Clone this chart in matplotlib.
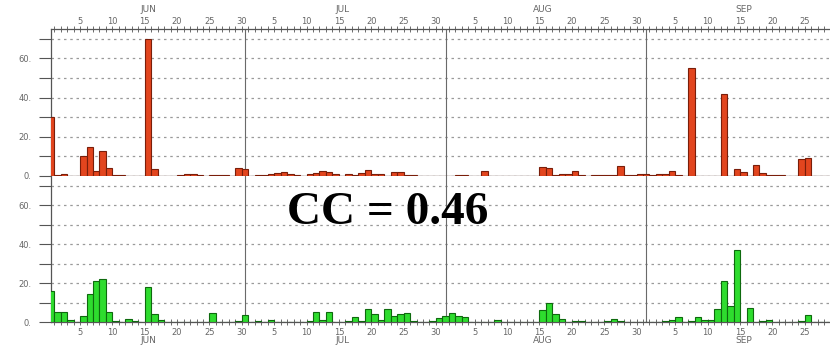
import matplotlib as mpl
import matplotlib.pyplot as plt
import numpy as np

# daily values, one list per month (index = days from 1 June)
red_jun = [30, 0.5, 0.8, 0, 0, 10, 15, 2.5, 13, 4,
           0.3, 0.3, 0, 0, 0, 70, 3.5, 0, 0, 0,
           0.5, 0.8, 0.8, 0.3, 0, 0.4, 0.4, 0.4, 0, 4]
red_jul = [3.5, 0, 0.3, 0.5, 1, 1.5, 2, 1.2, 0.3, 0,
           1, 1.5, 2.5, 2, 1, 0, 0.8, 0.3, 1.5, 3,
           0.8, 0.8, 0, 2, 1.8, 0.3, 0.4, 0, 0, 0, 0]
red_aug = [0, 0, 0.3, 0.7, 0, 0, 2.5, 0, 0, 0,
           0, 0, 0, 0, 0, 4.5, 4, 0.3, 1.2, 1,
           2.5, 0.3, 0, 0.3, 0.5, 0.3, 0.5, 5, 0.5, 0.5, 0.8]
red_sep = [0.8, 0.5, 0.8, 0.8, 2.5, 0.5, 0, 55, 0, 0,
           0, 0, 42, 0, 3.5, 2, 0, 5.5, 1.5, 0.3,
           0.3, 0.3, 0, 0, 8.5, 9, 0, 0, 0]

green_jun = [16, 5, 5, 1, 0, 3, 14.5, 21, 22, 5,
             0.5, 0, 1.5, 0.5, 0, 18, 4, 1, 0, 0,
             0, 0, 0, 0, 0, 4.5, 0, 0, 0, 0.3]
green_jul = [3.5, 0, 0.5, 0, 0.8, 0, 0, 0, 0, 0,
             0.3, 5, 1, 5, 0, 0, 0.3, 2.5, 0.5, 6.5,
             4, 1, 6.5, 3, 4, 4.5, 0.5, 0, 0, 0.3, 2]
green_aug = [3, 4.5, 3, 2.5, 0, 0, 0, 0, 0.8, 0,
             0, 0, 0, 0, 0, 6, 10, 4, 1.5, 0,
             0.5, 0.5, 0, 0, 0, 0.3, 1.5, 0.5, 0, 0, 0]
green_sep = [0, 0, 0, 0.3, 1, 2.5, 0, 0.5, 2.5, 1,
             1, 6.5, 21, 8, 37, 0, 7, 0, 0.3, 0.8,
             0, 0, 0, 0, 0.3, 3.5, 0, 0, 0]

month_names = ['JUN', 'JUL', 'AUG', 'SEP']
month_days = [30, 31, 31, 30]
day_labels = [5, 10, 15, 20, 25, 30]
yticks = [0, 20, 40, 60]

red = np.array(red_jun + red_jul + red_aug + red_sep)
green = np.array(green_jun + green_jul + green_aug + green_sep)
days = np.arange(len(red))
month_start = np.concatenate([[0], np.cumsum(month_days)[:-1]])

xmax = 120.4
grey = '#666666'
axis_col = '#555555'

fig = plt.figure(figsize=(8.3, 3.47), dpi=100)
ax1 = fig.add_axes([0.0614, 0.4928, 1 - 0.0614, 0.4236])
ax2 = fig.add_axes([0.0614, 0.072, 1 - 0.0614, 0.4208])

ax1.bar(days, red, width=1.0, color='#E2451E', edgecolor='#7A1E0A', linewidth=0.8, zorder=3)
ax2.bar(days, green, width=1.0, color='#2EDC2E', edgecolor='#0E6A0E', linewidth=0.8, zorder=3)

# tick positions for day labels and every day
lab_pos, lab_txt = [], []
for m0, nd in zip(month_start, month_days):
    for d in day_labels:
        if d <= nd and m0 + d - 0.5 < xmax:
            lab_pos.append(m0 + d - 0.5)
            lab_txt.append(str(d))
day_ticks = np.arange(0.5, xmax, 1.0)

for ax in (ax1, ax2):
    ax.set_xlim(0, xmax)
    ax.set_ylim(0, 75)
    ax.set_yticks(yticks)
    ax.set_yticklabels([f'{v}.' for v in yticks])
    ax.yaxis.set_minor_locator(mpl.ticker.MultipleLocator(10))
    ax.tick_params(axis='y', which='both', direction='out', length=9,
                   width=0.8, color=axis_col, labelsize=6, labelcolor=grey, pad=5)
    ax.grid(axis='y', which='both', linestyle=(0, (2, 3)), color='#9a9a9a', linewidth=0.9, zorder=1)
    for m0 in month_start[1:]:
        ax.axvline(m0, color='#6a6a6a', linewidth=0.8, zorder=2)
    ax.spines['right'].set_visible(False)
    for s in ('left', 'top', 'bottom'):
        ax.spines[s].set_color(axis_col)
        ax.spines[s].set_linewidth(0.9)
    ax.set_xticks(day_ticks, minor=True)
    ax.set_xticks(lab_pos)

ax1.xaxis.tick_top()
ax1.set_xticklabels(lab_txt)
ax1.tick_params(axis='x', which='both', direction='inout', length=4, width=0.6,
                color=axis_col, labelsize=6, labelcolor=grey, pad=0.5)
ax1.tick_params(axis='x', which='both', bottom=False)

ax2.set_xticklabels(lab_txt)
ax2.tick_params(axis='x', which='both', direction='inout', length=4, width=0.6,
                color=axis_col, labelsize=6, labelcolor=grey, pad=2)
ax2.spines['top'].set_visible(False)

tr1 = mpl.transforms.blended_transform_factory(ax1.transData, ax1.transAxes)
tr2 = mpl.transforms.blended_transform_factory(ax2.transData, ax2.transAxes)
for name, m0 in zip(month_names, month_start):
    ax1.text(m0 + 15, 1.135, name, transform=tr1, ha='center', va='center',
             fontsize=6.5, color=grey)
    ax2.text(m0 + 15, -0.13, name, transform=tr2, ha='center', va='center',
             fontsize=6.5, color=grey)

ax2.text(52, 56, 'CC = 0.46', ha='center', va='center', fontsize=34,
         fontweight='bold', family='Liberation Serif', color='black', zorder=5)

plt.savefig('out.png', dpi=100)
